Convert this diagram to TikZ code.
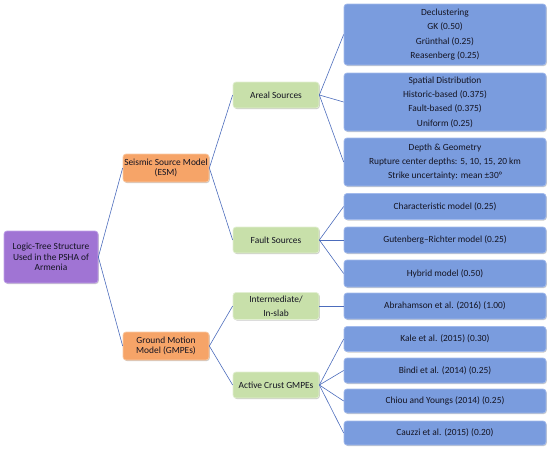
\documentclass[tikz,border=0pt]{standalone}
\usepackage{fontspec}
\setmainfont{Carlito}
\usetikzlibrary{shadows}
\definecolor{purplefill}{RGB}{160,116,212}
\definecolor{purpleedge}{RGB}{192,162,232}
\definecolor{orangefill}{RGB}{246,164,104}
\definecolor{orangeedge}{RGB}{250,202,164}
\definecolor{greenfill}{RGB}{200,224,170}
\definecolor{greenedge}{RGB}{226,239,210}
\definecolor{bluefill}{RGB}{122,156,222}
\definecolor{blueedge}{RGB}{162,186,236}
\definecolor{linkcol}{RGB}{76,108,188}
\definecolor{txt}{RGB}{20,20,34}
\begin{document}
\begin{tikzpicture}[x=1pt,y=-1pt,
  box/.style={rectangle, rounded corners=3pt, inner sep=0pt, align=center, text=txt,
    font=\fontsize{9.4}{10.5}\selectfont, line width=0.7pt,
    drop shadow={shadow xshift=0.8pt, shadow yshift=-1pt, opacity=0.35, fill=black!60}},
  rootbox/.style={box, fill=purplefill, draw=purpleedge, minimum width=94pt, minimum height=52pt},
  orangebox/.style={box, fill=orangefill, draw=orangeedge, minimum width=86pt, minimum height=28pt},
  greenbox/.style={box, fill=greenfill, draw=greenedge, minimum width=86pt, minimum height=26pt},
  bluebox/.style={box, fill=bluefill, draw=blueedge, minimum width=202pt, minimum height=26pt},
  wide/.style={font=\fontsize{9.4}{14.3}\selectfont},
  link/.style={draw=linkcol, line width=0.6pt}]
\useasboundingbox (0,0) rectangle (550,451);

\node[rootbox] (root) at (51,257) {Logic-Tree Structure\\Used in the PSHA of\\Armenia};
\node[orangebox] (esm) at (166,168) {Seismic Source Model\\(ESM)};
\node[orangebox] (gmpe) at (166,346) {Ground Motion\\Model (GMPEs)};

\node[greenbox] (areal) at (276,95) {Areal Sources};
\node[greenbox] (fault) at (276,240) {Fault Sources};
\node[greenbox, wide, minimum height=27pt] (inter) at (276,306) {Intermediate/\\In-slab};
\node[greenbox] (active) at (276,385) {Active Crust GMPEs};

\node[bluebox, wide, minimum height=61pt] (decl) at (445,34.5) {Declustering\\GK (0.50)\\Grünthal (0.25)\\Reasenberg (0.25)};
\node[bluebox, wide, minimum height=58pt] (spatial) at (445,102) {Spatial Distribution\\Historic-based (0.375)\\Fault-based (0.375)\\Uniform (0.25)};
\node[bluebox, wide, minimum height=48pt] (depth) at (445,162) {Depth \& Geometry\\Rupture center depths: 5, 10, 15, 20 km\\Strike uncertainty: mean ±30°};
\node[bluebox] (char) at (445,206.5) {Characteristic model (0.25)};
\node[bluebox] (gut) at (445,240) {Gutenberg–Richter model (0.25)};
\node[bluebox, minimum height=27pt] (hybrid) at (445,273.5) {Hybrid model (0.50)};
\node[bluebox] (abra) at (445,306) {Abrahamson et al. (2016) (1.00)};
\node[bluebox, minimum height=25pt] (kale) at (445,339) {Kale et al. (2015) (0.30)};
\node[bluebox, minimum height=25pt] (bindi) at (445,370.5) {Bindi et al. (2014) (0.25)};
\node[bluebox, minimum height=24pt] (chiou) at (445,401) {Chiou and Youngs (2014) (0.25)};
\node[bluebox, minimum height=24pt] (cauzzi) at (445,433) {Cauzzi et al. (2015) (0.20)};

\draw[link] (root.east) -- (esm.west);
\draw[link] (root.east) -- (gmpe.west);
\draw[link] (esm.east) -- (areal.west);
\draw[link] (esm.east) -- (fault.west);
\draw[link] (gmpe.east) -- (inter.west);
\draw[link] (gmpe.east) -- (active.west);
\draw[link] (areal.east) -- (decl.west);
\draw[link] (areal.east) -- (spatial.west);
\draw[link] (areal.east) -- (depth.west);
\draw[link] (fault.east) -- (char.west);
\draw[link] (fault.east) -- (gut.west);
\draw[link] (fault.east) -- (hybrid.west);
\draw[link] (inter.east) -- (abra.west);
\draw[link] (active.east) -- (kale.west);
\draw[link] (active.east) -- (bindi.west);
\draw[link] (active.east) -- (chiou.west);
\draw[link] (active.east) -- (cauzzi.west);
\end{tikzpicture}
\end{document}
